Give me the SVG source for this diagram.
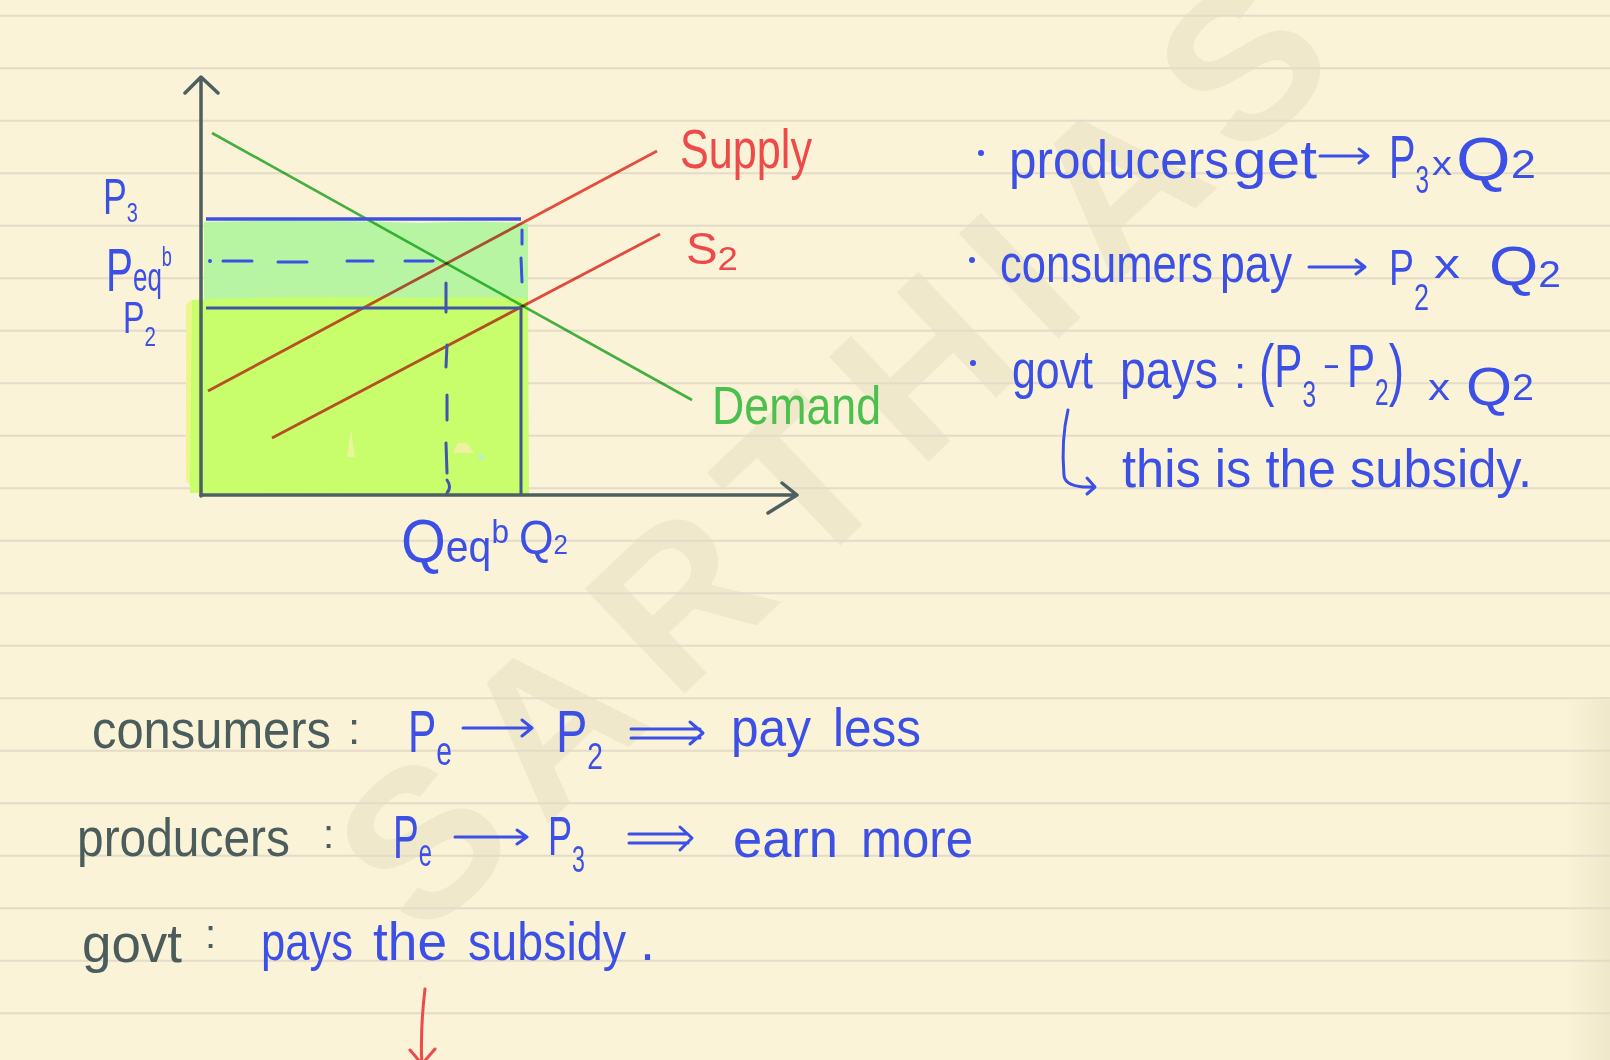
<svg xmlns="http://www.w3.org/2000/svg" width="1610" height="1060" viewBox="0 0 1610 1060">
<defs>
<style>
.rule{stroke:#e3dcc8;stroke-width:2}
text{font-family:"Liberation Sans Narrow","Liberation Sans",Arial,sans-serif;}
.wm{font-family:"Liberation Sans",Arial,sans-serif;font-size:210px;font-weight:bold;fill:#efe8cb;text-anchor:middle}
.b{fill:#3c50e6}
.k{fill:#4a5c5c}
.r{fill:#ee4a4a}
.g{fill:#4cc04e}
.bs{stroke:#3c50e6;stroke-width:3;fill:none;stroke-linecap:round;stroke-linejoin:round}
.ax{stroke:#4d6060;stroke-width:3.5;fill:none;stroke-linecap:round;stroke-linejoin:round}
.mul{mix-blend-mode:multiply}
</style>
<linearGradient id="edge" x1="0" y1="0" x2="1" y2="0">
<stop offset="0" stop-color="#c8bf9c" stop-opacity="0"/>
<stop offset="1" stop-color="#c8bf9c" stop-opacity="0.22"/>
</linearGradient>
</defs>

<g id="paper">
<rect width="1610" height="1060" fill="#faf3d7"/>
<rect x="1565" y="700" width="45" height="360" fill="url(#edge)"/>
</g>

<g id="watermark">
<text class="wm" transform="translate(420,839) rotate(-43.5)" y="76">S</text>
<text class="wm" transform="translate(547,720) rotate(-43.5)" y="76">A</text>
<text class="wm" transform="translate(677,596) rotate(-43.5)" y="76">R</text>
<text class="wm" transform="translate(799,480) rotate(-43.5)" y="76">T</text>
<text class="wm" transform="translate(921,364) rotate(-43.5)" y="76">H</text>
<text class="wm" transform="translate(1017,273) rotate(-43.5)" y="76">I</text>
<text class="wm" transform="translate(1114,181) rotate(-43.5)" y="76">A</text>
<text class="wm" transform="translate(1240,61) rotate(-43.5)" y="76">S</text>
</g>

<g id="rules">
<path class="rule" d="M0 15.7H1610M0 68.2H1610M0 120.7H1610M0 173.2H1610M0 225.7H1610M0 278.2H1610M0 330.7H1610M0 383.2H1610M0 435.7H1610M0 488.2H1610M0 540.7H1610M0 593.2H1610M0 645.7H1610M0 698.2H1610M0 750.7H1610M0 803.2H1610M0 855.7H1610M0 908.2H1610M0 960.7H1610M0 1013.2H1610"/>
</g>

<g id="chart">
<g id="fills">
<rect x="186" y="300" width="20" height="186" rx="8" fill="#eef58c"/>
<path d="M204 222 Q300 219 420 223 Q500 220 528 224 L528 306 L204 306 Z" fill="#b8f5a3"/>
<path d="M192 300 Q300 295 420 298 Q500 296 528 299 L529 494 L190 493 Z" fill="#c8fd6c"/>
<path d="M351 430 L355 457 L347 457 Z" fill="#e9f59c"/>
<path d="M453 453 L458 443 L467 443 L474 453 Z" fill="#f0f0a2"/>
<circle cx="481" cy="457" r="3" fill="#b9f0c6"/>
</g>
<g id="connectors">
<path class="mul" d="M212 133 L692 400" stroke="#46b94c" stroke-width="2.6" fill="none"/>
<path class="mul" d="M208 391 L657 151" stroke="#ea524a" stroke-width="2.8" fill="none"/>
<path class="mul" d="M272 438 L660 234" stroke="#e4504a" stroke-width="2.8" fill="none"/>
<path d="M206 219 L521 219" stroke="#3e50e0" stroke-width="3.5" fill="none"/>
<path d="M206 308 L521 308" stroke="#3f55a8" stroke-width="3" fill="none"/>
<path d="M521 308 L521 495" stroke="#44578c" stroke-width="3" fill="none"/>
<path class="bs" d="M522 230 L522 244 M521 258 L522 282"/>
<circle cx="210" cy="261" r="2" fill="#3c50e6"/>
<path class="bs" d="M223 261 L252 261 M278 262 L307 262 M347 261 L373 261 M405 261 L433 261"/>
<path d="M446 283 L446 312 M447 345 L446 367 M447 395 L447 420 M446 443 L447 473 M447 480 Q452 487 447 493" stroke="#3f55b0" stroke-width="3" fill="none" stroke-linecap="round"/>
<path class="ax" d="M201 496 L201 78 M185 93 L201 77 L218 93"/>
<path class="ax" d="M201 495 L797 495 M782 483 L797 495 L768 513"/>
</g>
<g id="axis-labels">
<text class="b" x="103" y="214" textLength="35" lengthAdjust="spacingAndGlyphs"><tspan font-size="50">P</tspan><tspan font-size="28" dy="8">3</tspan></text>
<text class="b" x="106" y="291" textLength="66" lengthAdjust="spacingAndGlyphs"><tspan font-size="62">P</tspan><tspan font-size="40">eq</tspan><tspan font-size="28" dy="-25">b</tspan></text>
<text class="b" x="123" y="333" textLength="33" lengthAdjust="spacingAndGlyphs"><tspan font-size="44">P</tspan><tspan font-size="28" dy="13">2</tspan></text>
<text class="b" x="401" y="562" textLength="108" lengthAdjust="spacingAndGlyphs"><tspan font-size="62">Q</tspan><tspan font-size="44">eq</tspan><tspan font-size="34" dy="-19">b</tspan></text>
<text class="b" x="519" y="554" textLength="49" lengthAdjust="spacingAndGlyphs"><tspan font-size="48">Q</tspan><tspan font-size="28">2</tspan></text>
</g>
<g id="curve-labels">
<text class="r" x="680" y="168" font-size="56" textLength="132" lengthAdjust="spacingAndGlyphs">Supply</text>
<text class="r" x="686" y="264" textLength="52" lengthAdjust="spacingAndGlyphs"><tspan font-size="44">S</tspan><tspan font-size="34" dy="6">2</tspan></text>
<text class="g" x="712" y="424" font-size="54" textLength="169" lengthAdjust="spacingAndGlyphs">Demand</text>
</g>
</g>

<g id="notes-right">
<circle cx="981" cy="153" r="3" fill="#3c50e6"/>
<text class="b" x="1009" y="178" font-size="54" textLength="220" lengthAdjust="spacingAndGlyphs">producers</text>
<text class="b" x="1233" y="178" font-size="54" textLength="84" lengthAdjust="spacingAndGlyphs">get</text>
<path class="bs" d="M1320 156 L1368 156 M1359 149 L1368 156 L1359 163"/>
<text class="b" x="1389" y="178" textLength="40" lengthAdjust="spacingAndGlyphs"><tspan font-size="62">P</tspan><tspan font-size="38" dy="15">3</tspan></text>
<text class="b" x="1432" y="175" font-size="34" textLength="20" lengthAdjust="spacingAndGlyphs">x</text>
<text class="b" x="1456" y="180" textLength="80" lengthAdjust="spacingAndGlyphs"><tspan font-size="62">Q</tspan><tspan font-size="40" dy="-2">2</tspan></text>

<circle cx="972" cy="260" r="3" fill="#3c50e6"/>
<text class="b" x="1000" y="282" font-size="54" textLength="213" lengthAdjust="spacingAndGlyphs">consumers</text>
<text class="b" x="1220" y="282" font-size="54" textLength="72" lengthAdjust="spacingAndGlyphs">pay</text>
<path class="bs" d="M1309 267 L1365 267 M1356 260 L1365 267 L1356 274"/>
<text class="b" x="1389" y="285" textLength="40" lengthAdjust="spacingAndGlyphs"><tspan font-size="50">P</tspan><tspan font-size="36" dy="25">2</tspan></text>
<text class="b" x="1434" y="278" font-size="40" textLength="26" lengthAdjust="spacingAndGlyphs">x</text>
<text class="b" x="1489" y="285" textLength="72" lengthAdjust="spacingAndGlyphs"><tspan font-size="56">Q</tspan><tspan font-size="36" dy="2">2</tspan></text>

<circle cx="973" cy="363" r="3" fill="#3c50e6"/>
<text class="b" x="1012" y="388" font-size="54" textLength="81" lengthAdjust="spacingAndGlyphs">govt</text>
<text class="b" x="1120" y="388" font-size="54" textLength="98" lengthAdjust="spacingAndGlyphs">pays</text>
<text class="b" x="1234" y="388" font-size="44">:</text>
<text class="b" x="1259" y="393" textLength="145" lengthAdjust="spacingAndGlyphs"><tspan font-size="68">(</tspan><tspan font-size="62" dy="-6">P</tspan><tspan font-size="36" dy="20">3</tspan><tspan font-size="40" dy="-27"> − </tspan><tspan font-size="62" dy="7">P</tspan><tspan font-size="36" dy="18">2</tspan><tspan font-size="68" dy="-12">)</tspan></text>
<text class="b" x="1428" y="400" font-size="36" textLength="22" lengthAdjust="spacingAndGlyphs">x</text>
<text class="b" x="1466" y="405" textLength="68" lengthAdjust="spacingAndGlyphs"><tspan font-size="54">Q</tspan><tspan font-size="36" dy="-5">2</tspan></text>

<path class="bs" d="M1068 410 Q1061 440 1064 476 Q1066 488 1093 487 M1087 478 L1095 487 L1087 494"/>
<text class="b" x="1122" y="487" font-size="54" textLength="410" lengthAdjust="spacingAndGlyphs">this is the subsidy.</text>
</g>

<g id="notes-bottom">
<text class="k" x="92" y="748" font-size="54" textLength="239" lengthAdjust="spacingAndGlyphs">consumers</text>
<text class="k" x="348" y="744" font-size="44">:</text>
<text class="b" x="408" y="752" textLength="44" lengthAdjust="spacingAndGlyphs"><tspan font-size="60">P</tspan><tspan font-size="40" dy="13">e</tspan></text>
<path class="bs" d="M463 728 L532 728 M522 720 L532 728 L522 736"/>
<text class="b" x="556" y="752" textLength="47" lengthAdjust="spacingAndGlyphs"><tspan font-size="60">P</tspan><tspan font-size="36" dy="17">2</tspan></text>
<path class="bs" d="M631 729 L700 729 M631 738 L700 738 M690 722 L703 733 L690 744"/>
<text class="b" x="731" y="746" font-size="54" textLength="80" lengthAdjust="spacingAndGlyphs">pay</text>
<text class="b" x="833" y="746" font-size="54" textLength="88" lengthAdjust="spacingAndGlyphs">less</text>

<text class="k" x="77" y="856" font-size="54" textLength="213" lengthAdjust="spacingAndGlyphs">producers</text>
<text class="k" x="323" y="848" font-size="40">:</text>
<text class="b" x="393" y="858" textLength="39" lengthAdjust="spacingAndGlyphs"><tspan font-size="62">P</tspan><tspan font-size="38" dy="8">e</tspan></text>
<path class="bs" d="M455 837 L527 837 M517 830 L527 837 L517 844"/>
<text class="b" x="548" y="855" textLength="37" lengthAdjust="spacingAndGlyphs"><tspan font-size="56">P</tspan><tspan font-size="36" dy="17">3</tspan></text>
<path class="bs" d="M629 834 L688 834 M629 843 L688 843 M680 827 L692 838 L680 850"/>
<text class="b" x="733" y="857" font-size="54" textLength="105" lengthAdjust="spacingAndGlyphs">earn</text>
<text class="b" x="861" y="857" font-size="54" textLength="112" lengthAdjust="spacingAndGlyphs">more</text>

<text class="k" x="82" y="962" font-size="54" textLength="100" lengthAdjust="spacingAndGlyphs">govt</text>
<text class="k" x="205" y="948" font-size="40">:</text>
<text class="b" x="261" y="960" font-size="54" textLength="92" lengthAdjust="spacingAndGlyphs">pays</text>
<text class="b" x="373" y="960" font-size="54" textLength="74" lengthAdjust="spacingAndGlyphs">the</text>
<text class="b" x="468" y="960" font-size="54" textLength="158" lengthAdjust="spacingAndGlyphs">subsidy</text>
<text class="b" x="640" y="960" font-size="54">.</text>

<path d="M425 989 Q420 1030 422 1068 M410 1050 L422 1064 L435 1049" stroke="#ee4a4a" stroke-width="3" fill="none" stroke-linecap="round" stroke-linejoin="round"/>
</g>
</svg>
